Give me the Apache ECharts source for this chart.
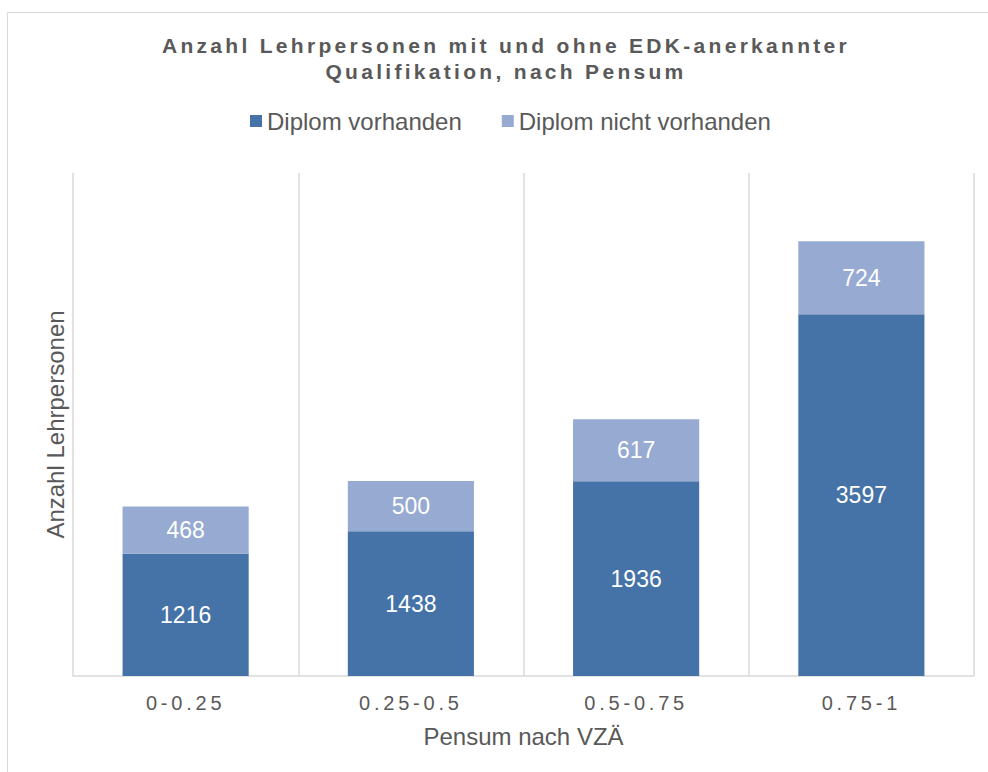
<!DOCTYPE html>
<html>
<head>
<meta charset="utf-8">
<script src="https://cdn.jsdelivr.net/npm/echarts@6/dist/echarts.min.js"></script>
<style>
  html, body { margin: 0; padding: 0; background: #fff; }
  #chart { width: 988px; height: 772px; }
  /* gesperrte Schrift wie im Original: Titel (fett) und Achsenbeschriftung (20px) */
  #chart text[style*="bold"] { letter-spacing: 3.3px; }
  #chart text[style*="20px"] { letter-spacing: 3.8px; }
</style>
</head>
<body>
<div id="chart"></div>
<script>
// Pensum-Kategorien (VZÄ)
var categories = ['0-0.25', '0.25-0.5', '0.5-0.75', '0.75-1'];
var diplomVorhanden = [1216, 1438, 1936, 3597];
var diplomNichtVorhanden = [468, 500, 617, 724];
var seriesNames = ['Diplom vorhanden', 'Diplom nicht vorhanden'];

var textGrey = '#595959';
var lineGrey = '#d9d9d9';
var font = 'Liberation Sans, Arial, sans-serif';

var chart = echarts.init(document.getElementById('chart'), null, { renderer: 'svg' });

chart.setOption({
    animation: false,
    backgroundColor: '#fff',
    graphic: [{
        type: 'rect',
        shape: { x: 7.5, y: 12.5, width: 1000, height: 800 },
        style: { fill: 'none', stroke: lineGrey, lineWidth: 1 },
        silent: true,
        z: -1
    }],
    title: {
        text: 'Anzahl Lehrpersonen mit und ohne EDK-anerkannter\nQualifikation, nach Pensum',
        left: 501,
        textAlign: 'center',
        top: 27,
        textStyle: {
            color: textGrey,
            fontFamily: font,
            fontWeight: 'bold',
            fontSize: 21,
            lineHeight: 26
        }
    },
    legend: {
        data: seriesNames,
        top: 104,
        left: 245,
        itemWidth: 12,
        itemHeight: 12,
        itemGap: 40,
        icon: 'rect',
        textStyle: {
            color: textGrey,
            fontFamily: font,
            fontSize: 24
        }
    },
    grid: {
        left: 73,
        right: 14,
        top: 173,
        bottom: 96
    },
    xAxis: {
        type: 'category',
        data: categories,
        name: 'Pensum nach VZÄ',
        nameLocation: 'middle',
        nameGap: 48,
        nameTextStyle: {
            color: textGrey,
            fontFamily: font,
            fontSize: 24
        },
        axisLine: { lineStyle: { color: lineGrey, width: 1.5 } },
        axisTick: { show: false },
        axisLabel: {
            color: textGrey,
            fontFamily: font,
            fontSize: 20,
            margin: 17
        },
        splitLine: { show: true, lineStyle: { color: lineGrey, width: 1.5 } }
    },
    yAxis: {
        type: 'value',
        min: 0,
        max: 5000,
        name: 'Anzahl Lehrpersonen',
        nameLocation: 'middle',
        nameGap: 6,
        nameTextStyle: {
            color: textGrey,
            fontFamily: font,
            fontSize: 24
        },
        axisLine: { show: false },
        axisTick: { show: false },
        axisLabel: { show: false },
        splitLine: { show: false }
    },
    series: [{
        name: seriesNames[0],
        type: 'bar',
        stack: 'total',
        barWidth: '56%',
        data: diplomVorhanden,
        itemStyle: { color: '#4673a7' },
        label: {
            show: true,
            position: 'inside',
            color: '#fff',
            fontFamily: font,
            fontSize: 23
        }
    }, {
        name: seriesNames[1],
        type: 'bar',
        stack: 'total',
        barWidth: '56%',
        data: diplomNichtVorhanden,
        itemStyle: { color: '#96aad2' },
        label: {
            show: true,
            position: 'inside',
            color: '#fff',
            fontFamily: font,
            fontSize: 23
        }
    }]
});
</script>
</body>
</html>
